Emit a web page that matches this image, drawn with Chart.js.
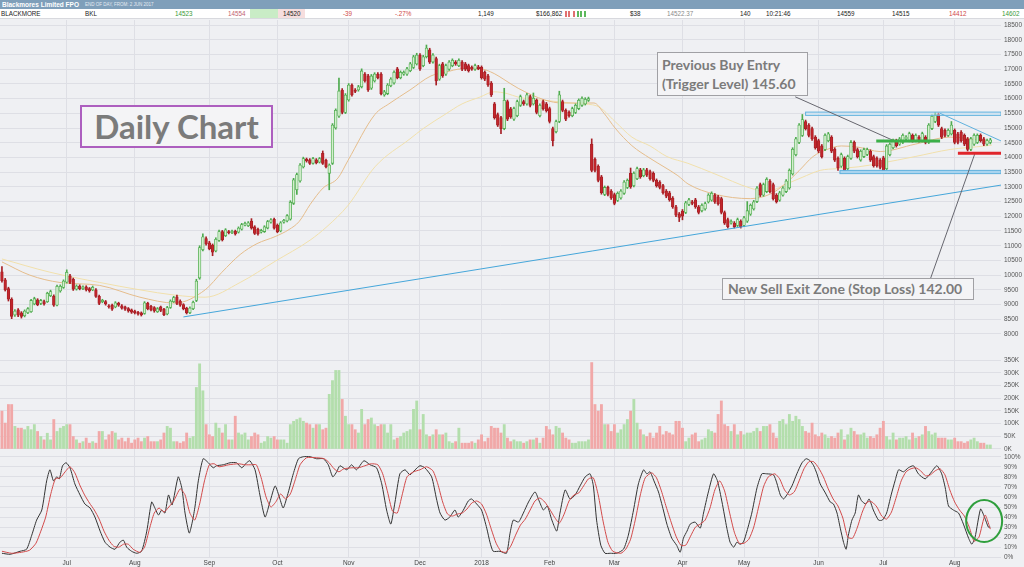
<!DOCTYPE html>
<html>
<head>
<meta charset="utf-8">
<title>Blackmores Limited FPO - Daily Chart</title>
<script src="https://cdn.jsdelivr.net/npm/chart.js@4.4.1/dist/chart.umd.min.js"></script>
<style>
  html, body { margin: 0; padding: 0; }
  body { width: 1024px; height: 567px; background: #eff0f3; position: relative; overflow: hidden;
         font-family: 'Liberation Sans', Arial, sans-serif; }
  #titlebar { position: absolute; left: 0; top: 0; width: 1024px; height: 9px; background: #7f9fba; color: #fff; }
  #titlebar b { position: absolute; left: 2px; top: 0; font-size: 6.5px; line-height: 9px; }
  #titlebar span { position: absolute; left: 85px; top: 0; font-size: 4.5px; line-height: 9px; color: #e4ebf2; }
  #quote { position: absolute; left: 0; top: 9px; width: 1024px; height: 9px; background: #fff; border-bottom: 1px solid #d8d9de; }
  #quote span { position: absolute; top: 0; font-size: 6.3px; line-height: 9px; color: #222; white-space: nowrap; }
  #quote i { position: absolute; top: 2px; width: 1.5px; height: 6px; }
  .pane { position: absolute; left: 0; width: 1024px; }
  .note { position: absolute; box-sizing: border-box; background: #f4f4f6; color: #7b7b7b; z-index: 5;
          font-family: Lato, 'Open Sans', sans-serif; font-weight: 700; white-space: nowrap; }
  #daily { left: 80px; top: 105px; width: 193px; height: 43px; border: 2px solid #ad5fbf;
           font-size: 33px; line-height: 39px; text-align: center; }
  #buy { left: 657px; top: 52px; width: 151px; height: 44px; border: 1px solid #a0a0a4;
         font-size: 14px; line-height: 19px; padding: 2px 0 0 4px; }
  #sell { left: 722px; top: 278px; width: 252px; height: 22px; border: 1px solid #a0a0a4;
          font-size: 14px; line-height: 20px; padding-left: 5px; }
</style>
</head>
<body>
<div id="titlebar"><b>Blackmores Limited FPO</b><span>END OF DAY, FROM: 2 JUN 2017</span></div>
<div id="quote">
  <span style="left:1px">BLACKMORE</span>
  <span style="left:85px">BKL</span>
  <span style="left:175px;color:#3a9a3a">14523</span>
  <span style="left:228px;color:#c25f70">14554</span>
  <div style="position:absolute;left:250px;top:0;width:28px;height:9px;background:#c9ecc6"></div>
  <div style="position:absolute;left:278px;top:0;width:27px;height:9px;background:#f6dede"></div>
  <span style="left:283px">14520</span>
  <span style="left:343px;color:#d04848">-39</span>
  <span style="left:395px;color:#d04848">-.27%</span>
  <span style="left:478px">1,149</span>
  <span style="left:536px">$166,862</span>
  <i style="left:565px;background:#e07070"></i><i style="left:568px;background:#e07070"></i>
  <i style="left:573px;background:#e07070"></i><i style="left:577px;background:#5cb85c"></i>
  <i style="left:580px;background:#5cb85c"></i><i style="left:584px;background:#5cb85c"></i>
  <span style="left:630px">$38</span>
  <span style="left:667px;color:#8a8a8a">14522.37</span>
  <span style="left:740px">140</span>
  <span style="left:766px">10:21:46</span>
  <span style="left:837px">14559</span>
  <span style="left:892px">14515</span>
  <span style="left:949px;color:#d04848">14412</span>
  <span style="left:1002px;color:#3a9a3a">14602</span>
</div>

<div class="pane" style="top:20px;height:322px"><canvas id="price"></canvas></div>
<div class="pane" style="top:342px;height:110px"><canvas id="volume"></canvas></div>
<div class="pane" style="top:452px;height:115px"><canvas id="stoch"></canvas></div>

<div class="note" id="daily">Daily Chart</div>
<div class="note" id="buy">Previous Buy Entry<br>(Trigger Level) 145.60</div>
<div class="note" id="sell">New Sell Exit Zone (Stop Loss) 142.00</div>

<script>
// trading days per month, Jun 2017 (from the 2nd) .. Aug 2018
const monthDays  = [20, 21, 23, 21, 22, 22, 19, 21, 20, 21, 19, 23, 20, 22, 12];
const monthNames = ['Jul', 'Aug', 'Sep', 'Oct', 'Nov', 'Dec', '2018', 'Feb', 'Mar', 'Apr', 'May', 'Jun', 'Jul', 'Aug'];

const priceTicks = [80, 85, 90, 95, 100, 105, 110, 115, 120, 125, 130, 135, 140, 145, 150, 155, 160, 165, 170, 175, 180, 185];
const volTicks   = [0, 50, 100, 150, 200, 250, 300, 350];
const stochTicks = [0, 10, 20, 30, 40, 50, 60, 70, 80, 90, 100];

// daily prices in dollars (axis shows cents)
const opens = [
  101.1, 98.4, 95.4, 91.8, 86.5, 88.2, 87.2, 86.2, 87.2, 87.6,
  90.2, 91.6, 90.4, 91.0, 91.0, 93.0, 92.8, 89.8, 94.6, 95.8,
  97.6, 99.8, 98.6, 95.2, 96.3, 95.4, 96.0, 95.4, 95.0, 95.0,
  92.8, 91.0, 91.0, 89.6, 89.8, 89.2, 90.4, 89.6, 89.2, 88.6,
  88.2, 87.8, 87.4, 87.2, 87.0, 90.4, 89.4, 89.0, 87.6, 89.2,
  88.4, 86.8, 89.0, 91.0, 92.6, 91.2, 90.0, 88.8, 87.2, 88.6,
  91.4, 99.0, 108.6, 112.4, 111.0, 110.2, 108.2, 111.8, 114.8, 113.4,
  114.8, 114.4, 114.9, 114.6, 115.6, 117.0, 116.8, 118.4, 116.4, 115.6,
  114.6, 114.8, 116.0, 118.0, 119.0, 117.0, 115.0, 118.0, 118.4, 119.0,
  124.4, 129.0, 132.0, 136.8, 139.4, 139.2, 138.0, 139.2, 138.4, 141.4,
  139.0, 134.6, 138.0, 150.0, 154.0, 162.9, 155.3, 159.5, 164.6, 162.9,
  162.9, 164.0, 168.3, 167.7, 163.5, 166.0, 168.3, 168.3, 161.2, 161.7,
  164.4, 165.3, 170.1, 167.1, 168.3, 168.3, 169.5, 170.6, 171.8, 174.8,
  171.2, 174.2, 176.6, 172.4, 173.6, 166.6, 171.8, 168.3, 170.0, 171.2,
  172.4, 171.2, 172.4, 171.8, 171.2, 170.6, 170.0, 170.8, 170.6, 168.9,
  167.7, 165.3, 158.2, 154.6, 153.5, 149.8, 159.0, 156.5, 153.0, 154.2,
  157.7, 159.0, 158.2, 160.7, 158.2, 159.4, 154.2, 159.0, 158.2, 156.6,
  149.8, 148.7, 152.2, 159.0, 156.0, 155.3, 154.2, 155.3, 156.6, 157.7,
  158.2, 159.4, 144.5, 139.4, 137.0, 133.4, 127.4, 129.8, 128.6, 127.4,
  125.4, 126.2, 127.8, 129.8, 134.6, 130.4, 132.8, 135.8, 133.8, 135.8,
  135.2, 134.6, 132.2, 131.6, 130.4, 128.6, 128.0, 126.2, 123.2, 120.8,
  121.8, 121.3, 124.0, 124.9, 125.6, 123.2, 121.9, 122.5, 124.9, 125.5,
  127.2, 126.6, 126.0, 121.3, 118.9, 117.7, 117.7, 116.9, 118.3, 116.9,
  118.3, 120.7, 122.5, 125.0, 130.8, 127.2, 128.4, 132.0, 130.8, 127.2,
  125.5, 127.2, 128.4, 129.6, 134.4, 140.9, 145.1, 147.5, 152.2, 151.0,
  149.8, 146.9, 145.7, 143.9, 142.7, 145.7, 146.9, 142.8, 139.7, 137.0,
  139.7, 136.2, 139.7, 145.1, 142.7, 139.1, 140.3, 141.0, 142.1, 140.3,
  139.7, 139.1, 139.9, 136.2, 140.9, 143.3, 145.7, 144.5, 145.1, 146.3,
  145.7, 147.5, 145.7, 146.9, 145.7, 146.9, 145.1, 149.8, 152.2, 154.6,
  149.8, 149.2, 147.5, 148.0, 149.2, 148.0, 148.6, 147.5, 146.3, 142.7,
  144.5, 145.1, 147.5, 146.3, 144.5, 145.1,
];
const highs = [
  102.9, 98.9, 95.9, 92.3, 88.3, 88.6, 87.6, 88.2, 89.0, 91.8,
  92.5, 92.0, 91.8, 91.5, 94.2, 94.9, 93.3, 96.6, 96.7, 98.4,
  101.8, 100.3, 99.0, 96.7, 96.7, 96.4, 96.4, 95.8, 96.3, 95.4,
  93.2, 91.8, 91.4, 90.0, 90.2, 91.0, 90.8, 90.0, 89.5, 89.0,
  88.5, 88.1, 87.7, 87.5, 91.0, 90.8, 89.7, 89.3, 89.0, 89.5,
  88.7, 89.4, 91.6, 92.8, 93.2, 91.6, 90.3, 89.1, 89.2, 91.2,
  98.6, 110.0, 114.0, 113.0, 111.5, 110.6, 112.7, 115.3, 115.2, 115.8,
  115.2, 115.3, 115.3, 116.4, 117.6, 118.0, 118.2, 119.2, 116.8, 116.0,
  115.6, 116.8, 118.6, 119.2, 119.4, 117.4, 118.2, 119.0, 120.6, 125.3,
  132.9, 134.7, 137.9, 140.1, 139.8, 139.6, 140.0, 139.6, 140.0, 142.2,
  139.4, 137.8, 151.5, 156.5, 167.0, 163.4, 161.7, 165.1, 165.0, 163.4,
  164.5, 170.1, 168.8, 168.2, 168.2, 168.8, 168.8, 168.8, 162.8, 165.1,
  167.1, 169.4, 170.6, 169.4, 169.4, 170.6, 172.3, 174.7, 175.4, 175.3,
  174.7, 178.2, 177.1, 175.3, 174.1, 171.7, 172.3, 171.7, 172.9, 173.5,
  172.9, 173.5, 172.9, 172.3, 171.7, 171.1, 171.7, 171.3, 171.1, 169.4,
  168.2, 165.8, 158.7, 155.1, 154.0, 163.5, 159.5, 157.0, 157.1, 159.5,
  161.2, 159.5, 161.8, 161.2, 161.9, 159.9, 158.2, 159.5, 158.7, 157.1,
  150.3, 152.7, 162.5, 159.5, 156.5, 155.8, 157.1, 158.2, 159.9, 160.6,
  160.3, 160.5, 146.3, 139.9, 137.5, 133.9, 130.3, 130.3, 129.1, 127.9,
  128.3, 129.1, 132.1, 132.7, 136.4, 135.1, 136.7, 136.3, 136.3, 136.3,
  135.7, 135.1, 132.7, 132.1, 130.9, 129.1, 128.5, 126.7, 123.7, 121.3,
  122.3, 125.1, 126.1, 125.4, 126.1, 123.7, 124.2, 124.8, 127.7, 128.3,
  127.7, 127.1, 126.5, 121.8, 119.4, 118.8, 118.2, 119.4, 118.8, 120.0,
  125.0, 124.2, 125.4, 130.1, 131.3, 131.3, 133.1, 132.5, 131.3, 127.7,
  128.5, 130.1, 132.5, 136.1, 143.3, 146.8, 151.5, 154.6, 152.7, 151.5,
  150.3, 147.4, 146.2, 144.4, 148.0, 148.5, 147.4, 143.3, 140.2, 141.5,
  140.2, 140.8, 145.7, 145.6, 143.2, 142.6, 143.2, 143.2, 142.6, 140.8,
  140.2, 139.6, 140.4, 144.4, 145.0, 146.2, 146.2, 146.8, 148.0, 147.4,
  148.6, 148.0, 148.0, 147.4, 148.6, 147.4, 151.5, 154.5, 155.2, 155.1,
  150.3, 149.7, 149.7, 152.2, 149.7, 148.5, 149.1, 148.0, 146.8, 146.8,
  148.0, 148.0, 148.0, 146.8, 146.2, 146.5,
];
const lows = [
  97.6, 94.6, 91.2, 85.2, 86.0, 85.9, 85.4, 85.8, 86.9, 87.3,
  89.9, 89.6, 90.0, 89.8, 90.7, 92.7, 89.4, 89.5, 94.2, 95.5,
  97.3, 97.1, 94.8, 94.9, 95.0, 95.1, 94.6, 94.2, 94.7, 92.4,
  90.0, 90.6, 89.8, 88.8, 88.0, 88.9, 89.4, 88.4, 88.0, 87.4,
  87.0, 86.8, 86.4, 86.1, 86.7, 88.2, 87.8, 87.4, 87.3, 87.6,
  86.2, 86.5, 88.7, 90.7, 90.0, 89.4, 88.2, 86.8, 86.9, 88.3,
  91.0, 98.6, 108.2, 110.2, 108.6, 106.6, 107.9, 111.5, 111.6, 113.1,
  114.0, 114.1, 113.6, 114.3, 115.3, 116.7, 116.5, 115.6, 113.8, 113.6,
  114.3, 114.5, 115.7, 117.7, 115.6, 114.4, 114.7, 117.7, 118.1, 118.7,
  124.0, 127.4, 131.6, 136.4, 138.4, 137.6, 137.7, 137.8, 138.1, 137.6,
  136.4, 129.0, 137.6, 149.6, 153.6, 154.8, 154.9, 159.1, 160.8, 162.0,
  162.5, 163.6, 165.6, 162.4, 163.1, 165.6, 166.7, 161.2, 160.8, 161.3,
  164.0, 164.9, 166.7, 166.7, 167.9, 167.9, 169.1, 170.2, 171.4, 169.6,
  170.8, 173.8, 171.9, 172.0, 164.6, 166.2, 167.2, 167.9, 169.6, 170.8,
  171.3, 170.8, 169.5, 169.5, 169.0, 169.6, 169.6, 169.8, 166.6, 166.1,
  164.1, 160.7, 153.0, 150.5, 148.1, 149.4, 152.5, 153.3, 152.6, 153.8,
  157.3, 157.7, 157.8, 157.2, 157.8, 154.8, 153.8, 156.1, 155.4, 151.7,
  143.9, 148.3, 151.8, 155.5, 152.5, 153.7, 153.8, 154.9, 156.2, 157.3,
  157.8, 159.0, 135.1, 135.1, 131.7, 127.5, 127.0, 126.9, 125.7, 123.9,
  125.0, 125.8, 127.4, 129.4, 129.5, 130.0, 132.4, 132.9, 133.4, 133.5,
  132.3, 131.7, 129.9, 129.3, 127.5, 126.3, 125.1, 122.7, 119.9, 118.2,
  118.8, 120.9, 123.6, 123.9, 122.7, 120.8, 121.5, 122.1, 124.5, 125.1,
  124.4, 123.8, 120.8, 117.2, 116.0, 117.3, 116.0, 116.5, 116.0, 116.5,
  117.9, 120.3, 122.1, 124.6, 126.7, 126.8, 128.0, 127.9, 125.5, 124.5,
  125.1, 126.8, 128.0, 129.2, 134.0, 140.5, 144.7, 147.1, 149.3, 147.0,
  145.8, 142.8, 141.6, 139.8, 142.3, 145.3, 141.6, 138.6, 135.6, 136.6,
  135.1, 135.8, 139.3, 141.6, 139.8, 138.7, 139.9, 140.6, 138.6, 136.7,
  136.7, 136.1, 135.0, 135.8, 140.5, 142.9, 143.5, 144.1, 144.7, 145.9,
  145.3, 145.2, 145.3, 145.2, 145.3, 144.6, 144.7, 149.4, 151.8, 150.5,
  146.4, 147.0, 147.1, 147.6, 144.6, 144.6, 145.2, 144.0, 142.2, 142.3,
  144.1, 144.7, 145.2, 144.0, 144.1, 144.6,
];
const closes = [
  98.1, 95.0, 91.8, 86.0, 87.8, 86.4, 86.0, 87.8, 88.6, 91.4,
  92.0, 90.0, 91.4, 90.2, 93.8, 94.4, 89.8, 96.2, 96.2, 98.0,
  101.0, 97.5, 95.2, 96.3, 95.4, 96.0, 95.0, 94.6, 95.9, 92.8,
  90.4, 91.4, 90.2, 89.2, 88.4, 90.6, 89.8, 88.8, 88.4, 87.8,
  87.4, 87.2, 86.8, 86.5, 90.6, 88.6, 88.2, 87.8, 88.6, 88.0,
  86.6, 89.0, 91.2, 92.4, 90.4, 89.8, 88.6, 87.2, 88.8, 90.8,
  98.0, 109.4, 113.0, 110.6, 109.0, 107.8, 112.2, 114.8, 112.0, 115.4,
  114.4, 114.9, 114.0, 116.0, 117.2, 117.6, 117.8, 116.0, 114.2, 114.0,
  115.2, 116.4, 118.2, 118.8, 116.0, 114.8, 117.8, 118.6, 120.2, 124.8,
  132.4, 134.2, 137.4, 139.6, 138.8, 138.0, 139.6, 138.2, 139.6, 138.0,
  136.8, 137.4, 151.0, 156.0, 162.6, 155.3, 161.2, 164.6, 161.2, 162.4,
  164.0, 169.4, 166.0, 162.9, 167.7, 168.3, 167.1, 161.7, 162.3, 164.6,
  166.6, 168.9, 167.1, 168.9, 168.9, 170.1, 171.8, 174.2, 174.8, 170.1,
  174.2, 177.2, 172.4, 174.8, 166.0, 171.2, 167.7, 171.2, 172.4, 173.0,
  171.8, 173.0, 170.0, 170.0, 169.5, 170.0, 171.2, 170.2, 167.1, 166.6,
  164.6, 161.2, 153.5, 151.0, 149.8, 159.4, 153.0, 153.8, 156.6, 159.0,
  160.7, 158.2, 161.3, 157.7, 160.1, 155.3, 157.7, 156.6, 155.9, 152.2,
  145.7, 152.2, 161.3, 156.0, 153.0, 154.2, 156.6, 157.7, 159.4, 160.1,
  159.8, 160.0, 135.6, 135.6, 132.2, 128.0, 129.8, 127.4, 126.2, 124.4,
  127.8, 128.6, 131.6, 132.2, 130.0, 134.6, 136.2, 133.4, 135.8, 134.0,
  132.8, 132.2, 130.4, 129.8, 128.0, 126.8, 125.6, 123.2, 120.4, 119.6,
  120.0, 124.6, 125.6, 124.4, 123.2, 121.3, 123.7, 124.3, 127.2, 127.8,
  124.9, 124.3, 121.3, 117.7, 116.5, 118.3, 116.5, 118.9, 116.5, 119.5,
  121.9, 123.7, 124.9, 129.6, 127.2, 130.8, 132.6, 128.4, 126.0, 125.0,
  128.0, 129.6, 132.0, 135.6, 142.8, 146.3, 151.0, 152.9, 149.8, 147.5,
  146.3, 143.3, 142.1, 140.3, 147.5, 148.0, 142.1, 139.1, 136.4, 141.0,
  135.6, 140.3, 145.1, 142.1, 140.3, 142.1, 142.7, 142.7, 139.1, 137.2,
  137.2, 136.6, 135.6, 143.9, 144.5, 145.7, 144.0, 146.3, 147.5, 146.9,
  148.1, 145.7, 147.5, 145.7, 148.1, 145.1, 151.0, 154.0, 154.6, 151.0,
  146.9, 147.5, 149.2, 151.0, 145.1, 145.1, 145.7, 144.5, 142.7, 146.3,
  147.5, 147.5, 145.7, 144.5, 145.7, 146.0,
];
// daily volume, thousands of shares
const volumes = [
  149, 102, 175, 175, 89, 82, 82, 76, 89, 76,
  96, 69, 49, 36, 62, 36, 116, 69, 82, 89,
  96, 96, 49, 36, 23, 29, 43, 23, 29, 23,
  69, 69, 36, 56, 69, 63, 36, 43, 29, 43,
  23, 36, 43, 29, 43, 49, 29, 29, 29, 36,
  63, 89, 82, 29, 29, 23, 29, 63, 43, 49,
  242, 335, 229, 96, 56, 49, 102, 82, 63, 96,
  36, 36, 129, 63, 56, 63, 36, 49, 63, 56,
  23, 29, 49, 43, 49, 36, 36, 36, 23, 96,
  109, 116, 122, 109, 102, 96, 82, 96, 96, 76,
  82, 215, 269, 309, 309, 195, 129, 96, 96, 76,
  63, 156, 96, 116, 122, 96, 89, 96, 96, 63,
  96, 36, 43, 49, 63, 69, 76, 156, 189, 76,
  136, 56, 49, 56, 76, 56, 56, 63, 29, 23,
  29, 82, 23, 23, 23, 29, 23, 36, 56, 29,
  43, 89, 82, 82, 63, 96, 43, 29, 36, 29,
  29, 23, 29, 36, 36, 43, 23, 43, 89, 76,
  56, 89, 82, 63, 43, 36, 23, 23, 29, 29,
  29, 36, 340, 175, 149, 175, 96, 96, 69, 96,
  63, 76, 96, 116, 149, 195, 102, 76, 56, 49,
  63, 43, 63, 89, 56, 69, 63, 56, 109, 109,
  82, 29, 43, 56, 63, 29, 36, 43, 76, 69,
  63, 136, 189, 96, 89, 69, 96, 56, 69, 56,
  63, 63, 69, 82, 69, 89, 89, 96, 63, 43,
  109, 116, 96, 136, 109, 129, 116, 89, 69, 63,
  102, 56, 49, 63, 56, 43, 49, 43, 63, 76,
  36, 56, 82, 69, 56, 56, 63, 43, 49, 43,
  56, 82, 109, 49, 36, 63, 36, 43, 43, 49,
  36, 63, 43, 49, 56, 89, 69, 56, 63, 43,
  43, 43, 36, 36, 43, 29, 29, 23, 29, 36,
  43, 29, 23, 23, 16, 16,
];

// moving averages: [day index, price]
const maFast = [
  [0, 104.5], [8.6, 100], [17.9, 97.5], [30.2, 96.5], [42.6, 92.5], [53.4, 90.5], [62.7, 95], [67.9, 101],
  [73.5, 107], [78.7, 110.7], [84.3, 113.1], [88.6, 115.5], [91.7, 118.2], [95.1, 124], [99.1, 129.6],
  [103.7, 133], [106.8, 139], [115.1, 154.6], [119.4, 158.2], [125.9, 162.9], [132.4, 167.7], [136.7, 168.9],
  [142, 170.1], [147.5, 170.1], [151.9, 168.5], [154.9, 166.5], [159.3, 163.5], [167.6, 159.5], [172.8, 158.5],
  [178.4, 158.5], [182.7, 158.5], [185.8, 155], [189.2, 150], [194.4, 144], [200, 139.7], [204.3, 136.8],
  [208.6, 133.8], [211.7, 131], [220, 127.5], [230.9, 126], [237, 127.5], [241.7, 131], [246, 135.5],
  [250.3, 140.3], [254.6, 142.7], [259, 143.9], [264.2, 143.5], [271, 142], [281.8, 144.5], [292.6, 146.9],
  [303.4, 145.6], [305.5, 145.3],
];
const maSlow = [
  [0, 105.5], [14.8, 101], [30.2, 97.5], [42.6, 95], [53.4, 93.2], [62.7, 92.5], [73.5, 97.5], [84.3, 104.7],
  [95.1, 111.9], [100.3, 116.5], [106.8, 123.7], [115.1, 136.8], [125.9, 146.3], [130, 149.8], [136.7, 154.6],
  [142, 158.2], [147.5, 160.5], [151.9, 162.3], [155.9, 161.7], [159.3, 160.5], [167.6, 159.4], [178.4, 158.2],
  [183.6, 157.5], [189.2, 152.2], [194.4, 146.9], [200, 143.9], [205.2, 140.3], [211.7, 138], [220, 134.4],
  [230.9, 129.6], [236.1, 128.4], [241.7, 130.8], [246.9, 133.2], [252.5, 135.6], [257.7, 136.2],
  [264.2, 136.8], [271, 138], [281.8, 140.3], [292.6, 142.7], [303.4, 143.9], [305.5, 144.2],
];

// slow stochastic: [day index, percent]
const stochK = [
  [0, 4], [2.5, 3], [5.6, 6], [7.6, 8], [9.2, 22], [10.7, 37], [12.3, 47], [13.8, 76], [14.8, 87], [15.9, 76],
  [16.9, 80], [17.7, 78], [18.7, 91], [19.8, 94], [21, 89], [22.5, 73], [24.1, 62], [25.6, 53], [27.2, 49],
  [28.7, 40], [30.3, 26], [31.8, 15], [33.4, 10], [34.9, 8], [36.4, 15], [37.5, 17], [38.5, 10], [40, 6],
  [41.6, 4], [43.1, 6], [44.7, 26], [46.2, 55], [47.2, 49], [48.3, 42], [49.3, 47], [50.3, 44], [51.4, 62],
  [52.5, 52], [54.4, 80], [55.5, 69], [56.5, 44], [57.8, 24], [58.8, 36], [59.6, 51], [60.6, 76], [62.1, 98],
  [63.7, 94], [65.2, 89], [66.2, 91], [68.3, 92], [70.4, 94], [72.4, 94], [74, 89], [75.5, 94], [76.5, 96],
  [78.1, 87], [79.6, 62], [81.2, 40], [82.7, 55], [84.3, 71], [85.6, 60], [86.8, 49], [88.4, 65], [89.9, 83],
  [91.5, 98], [93, 100], [95.1, 100], [97.1, 98], [99.2, 98], [100.7, 92], [102.1, 80], [103.3, 85],
  [104.3, 91], [106.4, 87], [107.9, 92], [109.4, 87], [111.7, 96], [113.6, 92], [115.6, 89], [117.2, 73],
  [118.7, 47], [120, 33], [121.3, 55], [122.8, 83], [124.4, 87], [125.9, 82], [127.5, 87], [129, 91],
  [130.5, 89], [132.6, 80], [134.1, 58], [135.2, 44], [136.7, 37], [138.2, 40], [139.8, 47], [140.8, 40],
  [142.4, 47], [143.9, 56], [144.9, 58], [146.5, 53], [148, 47], [149.6, 29], [150.6, 15], [151.6, 6],
  [153.7, 6], [155.7, 4], [156.8, 24], [157.8, 37], [159.4, 35], [160.9, 44], [162.5, 55], [164.5, 65],
  [165.9, 55], [167.1, 47], [168.3, 51], [169.7, 37], [171.2, 26], [172.2, 44], [173.8, 67], [175.3, 58],
  [176.9, 62], [178.4, 71], [180, 80], [181.5, 83], [182.5, 71], [183.5, 37], [184.8, 12], [186.1, 4],
  [187.7, 4], [189.7, 4], [191.8, 8], [193.3, 22], [194.9, 47], [196.4, 73], [198, 87], [199, 83], [200, 85],
  [201.2, 76], [202.6, 65], [204.1, 47], [205.2, 33], [206.7, 19], [208.2, 12], [209.3, 5], [210.3, 19],
  [211.4, 26], [212.4, 33], [213.9, 35], [215.5, 29], [216.5, 44], [218, 65], [219.6, 83], [220.8, 76],
  [222.2, 55], [223.7, 29], [224.7, 15], [225.8, 10], [226.8, 15], [227.8, 13], [228.8, 15], [229.9, 26],
  [231.4, 44], [233, 69], [234.5, 83], [236, 83], [238.1, 82], [239.1, 74], [240.2, 62], [241.2, 58],
  [242.2, 62], [243.8, 71], [245.3, 83], [246.9, 94], [248.2, 98], [249.4, 96], [250.5, 91], [251.5, 83],
  [252.5, 73], [254.1, 64], [255.6, 55], [256.6, 53], [257.7, 44], [258.7, 29], [259.7, 15], [260.5, 8],
  [261.2, 22], [262.3, 37], [263.3, 44], [264.3, 62], [265.3, 56], [266.6, 53], [267.6, 58], [268.9, 47],
  [270.5, 37], [271.7, 37], [273, 44], [274.4, 62], [275.6, 76], [276.7, 87], [278.2, 85], [279.7, 89],
  [281.3, 91], [282.8, 83], [284.9, 78], [286.4, 83], [288.5, 91], [290, 83], [291.1, 69], [292.1, 51],
  [293.6, 47], [295.2, 44], [296.7, 33], [298.3, 19], [299.3, 13], [300.3, 20], [302, 48], [303.2, 40],
  [304.4, 30], [305, 30],
];
const stochD = [
  [0, 6], [3, 4], [6, 5], [8.5, 7], [10.5, 14], [12, 26], [13.5, 40], [15, 62], [16.5, 78], [18, 79],
  [19.5, 85], [21, 90], [22.5, 84], [24, 72], [25.5, 62], [27, 54], [28.5, 47], [30, 38], [31.5, 26], [33, 17],
  [34.5, 11], [36, 10], [37.5, 13], [39, 13], [40.5, 8], [42.5, 5], [44, 10], [45.5, 28], [47, 44], [48.5, 49],
  [50, 45], [51.5, 50], [53, 56], [55, 68], [56.5, 62], [58, 44], [59.5, 37], [61, 53], [62.5, 76], [64, 92],
  [65.5, 93], [67, 90], [70, 92], [73, 93], [75, 92], [77, 92], [78.5, 92], [80, 79], [81.5, 60], [83, 50],
  [84.5, 55], [86, 63], [87.5, 58], [89, 63], [90.5, 77], [92, 92], [94, 99], [97, 99], [99.5, 98], [101, 94],
  [102.5, 88], [104, 85], [105.5, 88], [108, 89], [110, 89], [112, 91], [114, 93], [116, 92], [117.5, 83],
  [119, 65], [120.5, 46], [122, 44], [123.5, 62], [125, 80], [127, 85], [129, 87], [131, 90], [133, 86],
  [134.5, 73], [136, 55], [137.5, 43], [139, 41], [140.5, 43], [142, 44], [143.5, 48], [145, 54], [146.5, 56],
  [148, 53], [149.5, 43], [151, 28], [152.5, 14], [154, 6], [155.5, 5], [157, 11], [158.5, 22], [160, 32],
  [161.5, 38], [163, 47], [164.5, 56], [166, 59], [167.5, 55], [169, 48], [170.5, 40], [172, 34], [173.5, 43],
  [175, 56], [176.5, 62], [178, 64], [179.5, 71], [181, 78], [182.5, 79], [184, 62], [185.5, 36], [187, 15],
  [188.5, 6], [191, 4], [192.5, 8], [194, 18], [195.5, 38], [197, 62], [198.5, 79], [200.5, 84], [202, 79],
  [203.5, 66], [205, 50], [206.5, 35], [208, 21], [209.5, 12], [211, 12], [212.5, 21], [214, 30], [215.5, 33],
  [217, 37], [218.5, 49], [220, 67], [221.5, 76], [223, 66], [224.5, 45], [226, 25], [227.5, 14], [229, 14],
  [230.5, 18], [232, 30], [233.5, 50], [235, 70], [236.5, 80], [238.5, 83], [240, 78], [241.5, 67], [243, 62],
  [244.5, 65], [246, 76], [247.5, 88], [249, 95], [250.5, 95], [252, 89], [253.5, 80], [255, 68], [256.5, 58],
  [258, 51], [259.5, 39], [261, 20], [262.5, 19], [264, 30], [265.5, 45], [267, 55], [268.5, 55], [270, 50],
  [271.5, 41], [273, 38], [274.5, 45], [276, 60], [277.5, 76], [279, 85], [280.5, 88], [282, 89], [283.5, 86],
  [285, 81], [286.5, 82], [288, 86], [289.5, 88], [291, 82], [292.5, 67], [294, 55], [295.5, 47], [297, 41],
  [298.5, 30], [300, 16], [301.5, 20], [303.4, 42], [305, 28],
];

// drawn studies, in [day index, price]
const trendLine   = [[56, 85.8], [308.3, 130.6]];
const resistLine  = [[289.5, 155.0], [308.3, 145.6]];
const buyPointer  = [[244.8, 160.6], [275, 145.8]];
const sellPointer = [[286.4, 98.4], [300.4, 141.8]];
const topBand   = { from: 248, to: 308.3, lo: 154.3, hi: 155.4 };
const lowBand   = { from: 258.6, to: 308.3, lo: 134.5, hi: 135.6 };
const buyLevel  = { from: 269.8, to: 289.5, y: 145.6 };
const stopLevel = { from: 295, to: 308.3, y: 141.4 };
const stochMark = { x: 303.1, y: 36 };

const N = closes.length;
const X_MIN = -0.6, X_MAX = N + 2.3;
const GRID = '#dedfe5';
const GREEN = '#4eab4e', GREEN_FILL = '#d4efce', RED = '#c2262c', RED_EDGE = '#a61f25';
const isUp = i => closes[i] >= opens[i];

const tickPos = [];
let day = 0;
monthDays.forEach(d => { tickPos.push(day); day += d; });
tickPos.shift();

Chart.defaults.font.family = "'Liberation Sans', Arial, sans-serif";
Chart.defaults.animation = false;
Chart.defaults.events = [];
Chart.defaults.plugins.legend.display = false;
Chart.defaults.plugins.tooltip.enabled = false;

function xAxis(showLabels) {
  return {
    type: 'linear', min: X_MIN, max: X_MAX, offset: false,
    afterBuildTicks: s => { s.ticks = tickPos.map(v => ({ value: v })); },
    afterFit: s => { s.paddingLeft = 0; s.paddingRight = 0; s.height = showLabels ? 9 : 0; },
    grid: { color: GRID, drawTicks: false, offset: false },
    border: { display: false },
    ticks: { display: showLabels, autoSkip: false, maxRotation: 0, padding: 1, color: '#444',
             font: { size: 6.5 }, callback: (v, i) => monthNames[i] },
  };
}

function yAxis(min, max, ticks, fmt) {
  return {
    position: 'right', min, max,
    afterBuildTicks: s => { s.ticks = ticks.map(v => ({ value: v })); },
    afterFit: s => { s.width = 23; s.paddingTop = 0; s.paddingBottom = 0; },
    grid: { color: GRID, drawTicks: false },
    border: { display: false },
    ticks: { autoSkip: false, padding: 3, color: '#555', font: { size: 6.5 }, callback: fmt },
  };
}

const baseOptions = { responsive: true, maintainAspectRatio: false, layout: { padding: 0 } };

const priceMarks = {
  id: 'priceMarks',
  afterDatasetsDraw(chart) {
    const { ctx, chartArea: a, scales: { x, y } } = chart;
    const px = v => x.getPixelForValue(v);
    const py = v => y.getPixelForValue(v);
    ctx.save();
    ctx.beginPath();
    ctx.rect(a.left, a.top, a.right - a.left, a.bottom - a.top);
    ctx.clip();

    const segment = (pts, color, width) => {
      ctx.beginPath();
      ctx.moveTo(px(pts[0][0]), py(pts[0][1]));
      ctx.lineTo(px(pts[1][0]), py(pts[1][1]));
      ctx.strokeStyle = color;
      ctx.lineWidth = width;
      ctx.stroke();
    };
    const band = (b, fill) => {
      const x0 = px(b.from), x1 = px(b.to), y0 = py(b.hi), y1 = py(b.lo);
      ctx.fillStyle = fill;
      ctx.fillRect(x0, y0, x1 - x0, y1 - y0);
      ctx.strokeStyle = '#5fb1dd';
      ctx.lineWidth = 1;
      ctx.strokeRect(x0, y0, x1 - x0, y1 - y0);
    };

    band(topBand, 'rgba(200,230,247,0.5)');
    band(lowBand, '#a9d4ef');
    segment(trendLine, '#45a6da', 1);
    segment(resistLine, '#5fb1dd', 1);
    segment(buyPointer, '#66666e', 1);
    segment(sellPointer, '#66666e', 1);
    segment([[buyLevel.from, buyLevel.y], [buyLevel.to, buyLevel.y]], '#3bb049', 3);
    segment([[stopLevel.from, stopLevel.y], [stopLevel.to, stopLevel.y]], '#e0262c', 3);
    ctx.restore();
  }
};

const stochMarks = {
  id: 'stochMarks',
  afterDatasetsDraw(chart) {
    const { ctx, scales: { x, y } } = chart;
    ctx.save();
    ctx.beginPath();
    ctx.ellipse(x.getPixelForValue(stochMark.x), y.getPixelForValue(stochMark.y), 18, 21, 0, 0, Math.PI * 2);
    ctx.strokeStyle = '#2f9f3d';
    ctx.lineWidth = 2;
    ctx.stroke();
    ctx.restore();
  }
};

const toPoints = list => list.map(([x, y]) => ({ x, y }));

new Chart(document.getElementById('price'), {
  type: 'bar',
  data: {
    datasets: [
      { type: 'line', data: toPoints(maSlow), borderColor: '#f1e0ac', borderWidth: 1, pointRadius: 0,
        cubicInterpolationMode: 'monotone', order: 6 },
      { type: 'line', data: toPoints(maFast), borderColor: '#e5bd8c', borderWidth: 1, pointRadius: 0,
        cubicInterpolationMode: 'monotone', order: 5 },
      { data: closes.map((c, i) => ({ x: i, y: [lows[i], highs[i]] })),
        backgroundColor: ctx => isUp(ctx.dataIndex) ? GREEN : RED_EDGE,
        barThickness: 1, grouped: false, order: 4 },
      { data: closes.map((c, i) => ({ x: i, y: [opens[i], c] })),
        backgroundColor: ctx => isUp(ctx.dataIndex) ? GREEN_FILL : RED,
        borderColor: ctx => isUp(ctx.dataIndex) ? GREEN : RED_EDGE,
        borderWidth: 0.8, borderSkipped: false, barThickness: 2.7, grouped: false, order: 3 },
    ]
  },
  options: {
    ...baseOptions,
    scales: { x: xAxis(false), y: yAxis(77.28, 186.7, priceTicks, v => Math.round(v * 100)) },
  },
  plugins: [priceMarks],
});

new Chart(document.getElementById('volume'), {
  type: 'bar',
  data: {
    datasets: [{
      data: volumes.map((v, i) => ({ x: i, y: v })),
      backgroundColor: ctx => isUp(ctx.dataIndex) ? '#b3deac' : '#f1a8a8',
      barThickness: 2.2,
    }]
  },
  options: {
    ...baseOptions,
    scales: { x: xAxis(false), y: yAxis(-11.8, 420.8, volTicks, v => v + 'K') },
  },
});

new Chart(document.getElementById('stoch'), {
  type: 'line',
  data: {
    datasets: [
      { data: toPoints(stochD), borderColor: '#d24a4a', borderWidth: 1, pointRadius: 0, tension: 0.2 },
      { data: toPoints(stochK), borderColor: '#333333', borderWidth: 1, pointRadius: 0, tension: 0.2 },
    ]
  },
  options: {
    ...baseOptions,
    scales: { x: xAxis(true), y: yAxis(-0.7, 104.7, stochTicks, v => v + '%') },
  },
  plugins: [stochMarks],
});
</script>
</body>
</html>
